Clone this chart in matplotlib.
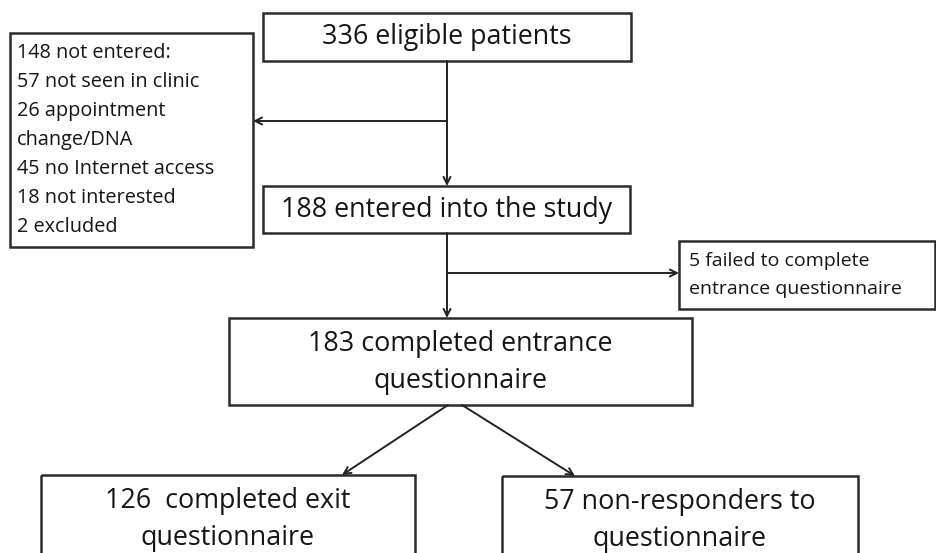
import matplotlib
matplotlib.use("Agg")
import matplotlib.pyplot as plt
from matplotlib.patches import Rectangle

# ---- content ----
main_labels = [
    "336 eligible patients",
    "188 entered into the study",
    "183 completed entrance\nquestionnaire",
    "126  completed exit\nquestionnaire",
    "57 non-responders to\nquestionnaire",
]
excluded_lines = [
    "148 not entered:",
    "57 not seen in clinic",
    "26 appointment",
    "change/DNA",
    "45 no Internet access",
    "18 not interested",
    "2 excluded",
]
failed_lines = ["5 failed to complete", "entrance questionnaire"]

# ---- layout (pixel coordinates, y downwards) ----
W, H = 936, 553
main_boxes = [  # x0, y0, x1, y1
    (263, 13, 631, 61),
    (263, 186, 630, 233),
    (229, 318, 692, 405),
    (41, 475, 415, 570),
    (502, 476, 858, 570),
]
excl_box = (10, 33, 253, 247)
fail_box = (679, 241, 935, 309)

FONT = "Open Sans"
BIG = 19.4
SMALL = 14.3
SMALL2 = 14.0
EDGE = "#2b2b2b"
TXT = "#151515"

fig = plt.figure(figsize=(W / 100, H / 100), dpi=100)
ax = fig.add_axes([0, 0, 1, 1])
ax.set_xlim(0, W)
ax.set_ylim(H, 0)
ax.axis("off")


def box(b):
    x0, y0, x1, y1 = b
    ax.add_patch(Rectangle((x0, y0), x1 - x0, y1 - y0, fill=False,
                           edgecolor=EDGE, linewidth=1.8, zorder=2))


for b, lab in zip(main_boxes, main_labels):
    box(b)
    x0, y0, x1, y1 = b
    cx = (x0 + x1) / 2
    lines = lab.split("\n")
    if len(lines) == 1:
        ax.text(cx, (y0 + y1) / 2, lines[0], ha="center", va="center",
                fontsize=BIG, family=FONT, color=TXT)
    else:
        for i, ln in enumerate(lines):
            ax.text(cx, y0 + 26 + 37 * i, ln, ha="center", va="center",
                    fontsize=BIG, family=FONT, color=TXT)

box(excl_box)
for i, ln in enumerate(excluded_lines):
    ax.text(excl_box[0] + 7, 53 + 29 * i, ln, ha="left", va="center",
            fontsize=SMALL, family=FONT, color=TXT)

box(fail_box)
for i, ln in enumerate(failed_lines):
    ax.text(fail_box[0] + 10, 261 + 28 * i, ln, ha="left", va="center",
            fontsize=SMALL2, family=FONT, color=TXT)

arrow_kw = dict(arrowstyle="->,head_length=0.5,head_width=0.25",
                color="#222222", lw=1.4, shrinkA=0, shrinkB=0)


def arrow(p0, p1):
    ax.annotate("", xy=p1, xytext=p0, arrowprops=arrow_kw, zorder=3)


cx = 447
arrow((cx, 61), (cx, 186))
arrow((cx, 121), (excl_box[2], 121))
arrow((cx, 233), (cx, 318))
arrow((cx, 273), (fail_box[0], 273))
arrow((448, 405), (342, 475))
arrow((462, 405), (575, 476))

fig.savefig("out.png", dpi=100, facecolor="white")
